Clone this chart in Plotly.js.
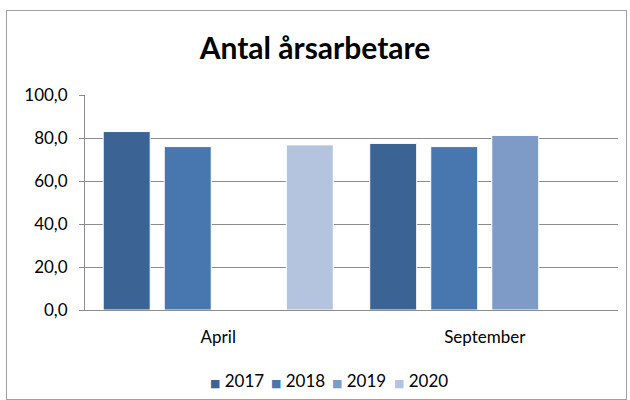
<!DOCTYPE html>
<html>
<head>
<meta charset="utf-8">
<script src="https://cdn.plot.ly/plotly-3.0.1.min.js"></script>
<style>
html,body{margin:0;padding:0;background:#fff;}
#wrap{position:relative;width:630px;height:400px;}
#chart{position:absolute;left:0;top:0;width:630px;height:400px;}
#frame{position:absolute;left:6px;top:10px;width:619px;height:388px;border:1px solid #a0a0a0;pointer-events:none;}
</style>
</head>
<body>
<div id="wrap"><div id="chart"></div><div id="frame"></div></div>
<script>
const categories = ["April", "September"];
const seriesNames = ["2017", "2018", "2019", "2020"];
const values2017 = [83.0, 77.5];
const values2018 = [76.0, 76.0];
const values2019 = [null, 81.2];
const values2020 = [76.8, null];
const colors = ["#3B6495", "#4876AF", "#7E9BC8", "#B4C4DF"];
const allValues = [values2017, values2018, values2019, values2020];

const traces = seriesNames.map((name, i) => ({
  type: "bar",
  name: name,
  x: categories,
  y: allValues[i],
  marker: {color: colors[i], line: {color: "#ffffff", width: 1}},
  hoverinfo: "skip"
}));

const font = "Lato, 'Open Sans', sans-serif";

// custom legend (compact, like the reference)
const legendStart = 0.286, legendStep = 0.1145, legendY = -0.326;
const legendAnnotations = seriesNames.map((name, i) => ({
  xref: "paper", yref: "paper",
  x: legendStart + i * legendStep, y: legendY,
  xanchor: "center", yanchor: "middle",
  showarrow: false,
  text: "<span style=\"color:" + colors[i] + ";font-family:'DejaVu Sans';font-size:11px\">■</span> " + name,
  font: {family: font, size: 17, color: "#000"}
}));

const layout = {
  width: 630, height: 400,
  margin: {l: 85, r: 12, t: 95, b: 90},
  paper_bgcolor: "#ffffff",
  plot_bgcolor: "#ffffff",
  separators: ", ",
  barmode: "group",
  bargap: 0.084,
  bargroupgap: 0.23,
  font: {family: font, size: 17, color: "#000"},
  title: {text: "<b>Antal årsarbetare</b>", x: 0.5, xref: "container", y: 0.88, yanchor: "middle",
          font: {family: font, size: 30, color: "#000"}},
  xaxis: {
    showline: true, linecolor: "#8c8c8c", linewidth: 1,
    ticks: "", showgrid: false, tickfont: {size: 17, family: font},
    ticklabelstandoff: 12
  },
  yaxis: {
    range: [0, 100], dtick: 20, tickformat: ".1f",
    showline: true, linecolor: "#8c8c8c", linewidth: 1,
    showgrid: true, gridcolor: "#8c8c8c", gridwidth: 1,
    zeroline: false,
    ticks: "outside", ticklen: 5, tickcolor: "#8c8c8c",
    ticklabelstandoff: 8,
    tickfont: {size: 17, family: font}
  },
  showlegend: false,
  annotations: legendAnnotations
};

Plotly.newPlot("chart", traces, layout, {displayModeBar: false, staticPlot: true});
</script>
</body>
</html>
